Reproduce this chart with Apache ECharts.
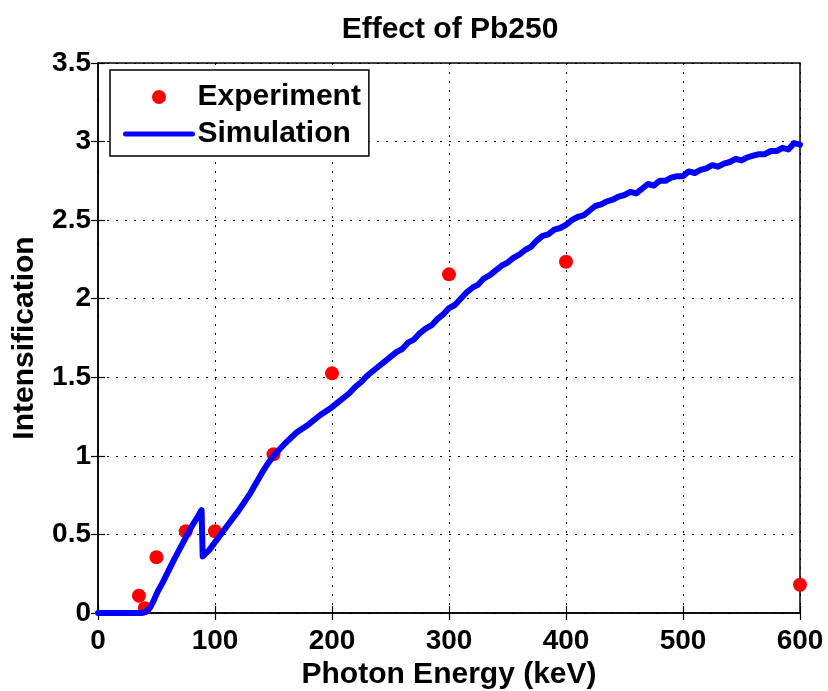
<!DOCTYPE html>
<html>
<head>
<meta charset="utf-8">
<script src="https://cdn.jsdelivr.net/npm/echarts@6/dist/echarts.min.js"></script>
<style>html,body{margin:0;padding:0;background:#fff;}#c{width:828px;height:691px;}</style>
</head>
<body>
<div id="c"></div>
<script>
const titleText = 'Effect of Pb250';
const xName = 'Photon Energy (keV)';
const yName = 'Intensification';
const expEnergy = [35, 40, 50, 75, 100, 150, 200, 300, 400, 600];
const expIntensity = [0.11, 0.03, 0.355, 0.52, 0.52, 1.01, 1.525, 2.155, 2.235, 0.18];
const simEnergy = [0, 38, 40, 42, 45, 48, 50, 52, 55, 60, 65, 70, 75, 80, 85, 88.5, 89.5, 95, 100, 110, 120, 130, 140, 145, 150, 155, 160, 170, 180, 190,
  200, 205, 210, 215, 220, 225, 230, 235, 240, 245, 250, 255, 260, 265, 270, 275, 280, 285, 290, 295,
  300, 305, 310, 315, 320, 325, 330, 335, 340, 345, 350, 355, 360, 365, 370, 375, 380, 385, 390, 395,
  400, 405, 410, 415, 420, 425, 430, 435, 440, 445, 450, 455, 460, 465, 470, 475, 480, 485, 490, 495,
  500, 505, 510, 515, 520, 525, 530, 535, 540, 545, 550, 555, 560, 565, 570, 575, 580, 585, 590, 595, 600];
const simIntensity = [0, 0, 0.005, 0.015, 0.04, 0.085, 0.12, 0.15, 0.19, 0.265, 0.34, 0.41, 0.48, 0.55, 0.61, 0.655, 0.36, 0.40, 0.45, 0.55, 0.65, 0.76, 0.89, 0.95, 1.0, 1.04, 1.08, 1.15, 1.20, 1.26,
  1.31, 1.34, 1.37, 1.40, 1.44, 1.47, 1.51, 1.54, 1.57, 1.60, 1.63, 1.66, 1.68, 1.72, 1.74, 1.78, 1.81, 1.83, 1.87, 1.90,
  1.94, 1.96, 2.00, 2.04, 2.07, 2.09, 2.13, 2.15, 2.18, 2.21, 2.23, 2.26, 2.28, 2.31, 2.33, 2.37, 2.40, 2.41, 2.44, 2.45,
  2.47, 2.50, 2.52, 2.53, 2.56, 2.59, 2.60, 2.62, 2.63, 2.65, 2.66, 2.68, 2.67, 2.70, 2.73, 2.72, 2.75, 2.75, 2.77, 2.78,
  2.78, 2.81, 2.80, 2.82, 2.83, 2.85, 2.84, 2.86, 2.87, 2.89, 2.88, 2.90, 2.91, 2.92, 2.92, 2.94, 2.94, 2.96, 2.95, 2.99, 2.98];

const FONT = 'Liberation Sans, Arial, Helvetica, sans-serif';
const gridDash = { color: '#000', width: 1, type: [2, 7] };
const bigText = { fontFamily: FONT, fontWeight: 'bold', fontSize: 30, color: '#000' };

const chart = echarts.init(document.getElementById('c'), null, { renderer: 'canvas' });
chart.setOption({
  animation: false,
  backgroundColor: '#fff',
  title: {
    text: titleText, left: 445, top: 10, textAlign: 'center',
    textStyle: bigText
  },
  legend: {
    orient: 'vertical', left: 110, top: 70,
    backgroundColor: '#fff', borderColor: '#000', borderWidth: 1.5,
    padding: [12, 8, 7, 13], itemGap: 7,
    itemWidth: 67, itemHeight: 14,
    textStyle: bigText,
    data: [
      { name: 'Experiment', icon: 'circle' },
      { name: 'Simulation', itemStyle: { color: 'rgba(0,0,0,0)', opacity: 0, borderWidth: 0 }, lineStyle: { width: 5, color: '#0000ff' } }
    ]
  },
  grid: { left: 98, right: 28, top: 63, bottom: 78, outerBoundsMode: 'none', containLabel: false, show: true, borderColor: '#000', borderWidth: 1.5, backgroundColor: 'transparent' },
  xAxis: [{
    type: 'value', min: 0, max: 600, interval: 100,
    name: xName, nameLocation: 'middle', nameGap: 30,
    nameTextStyle: bigText,
    axisLine: { show: true, onZero: false, lineStyle: { color: '#000', width: 1.5 } },
    axisTick: { show: true, inside: true, length: 7, lineStyle: { color: '#000', width: 1.2 } },
    axisLabel: { fontFamily: FONT, fontWeight: 'bold', fontSize: 28, color: '#000', margin: 14 },
    splitLine: { show: true, lineStyle: gridDash }
  }, {
    type: 'value', position: 'top', min: 0, max: 600, interval: 100,
    axisLine: { show: false }, axisLabel: { show: false }, splitLine: { show: false },
    axisTick: { show: true, inside: true, length: 7, lineStyle: { color: '#000', width: 1.2 } }
  }],
  yAxis: [{
    type: 'value', min: 0, max: 3.5, interval: 0.5,
    name: yName, nameLocation: 'middle', nameGap: 58,
    nameTextStyle: { fontFamily: FONT, fontWeight: 'bold', fontSize: 30, color: '#000' },
    axisLine: { show: true, onZero: false, lineStyle: { color: '#000', width: 1.5 } },
    axisTick: { show: true, inside: true, length: 7, lineStyle: { color: '#000', width: 1.2 } },
    axisLabel: { fontFamily: FONT, fontWeight: 'bold', fontSize: 28, color: '#000', margin: 7 },
    splitLine: { show: true, lineStyle: gridDash }
  }, {
    type: 'value', position: 'right', min: 0, max: 3.5, interval: 0.5,
    axisLine: { show: false }, axisLabel: { show: false }, splitLine: { show: false },
    axisTick: { show: true, inside: true, length: 7, lineStyle: { color: '#000', width: 1.2 } }
  }],
  series: [{
    name: 'Experiment', type: 'scatter', symbol: 'circle', symbolSize: 14, clip: false, z: 3,
    itemStyle: { color: '#ff0000', opacity: 1 },
    data: expEnergy.map((e, i) => [e, expIntensity[i]])
  }, {
    name: 'Simulation', type: 'line', showSymbol: false, symbol: 'none', z: 4,
    lineStyle: { color: '#0000ff', width: 6, join: 'round', cap: 'round' },
    itemStyle: { color: '#0000ff' },
    data: simEnergy.map((e, i) => [e, simIntensity[i]])
  }]
});
</script>
</body>
</html>
